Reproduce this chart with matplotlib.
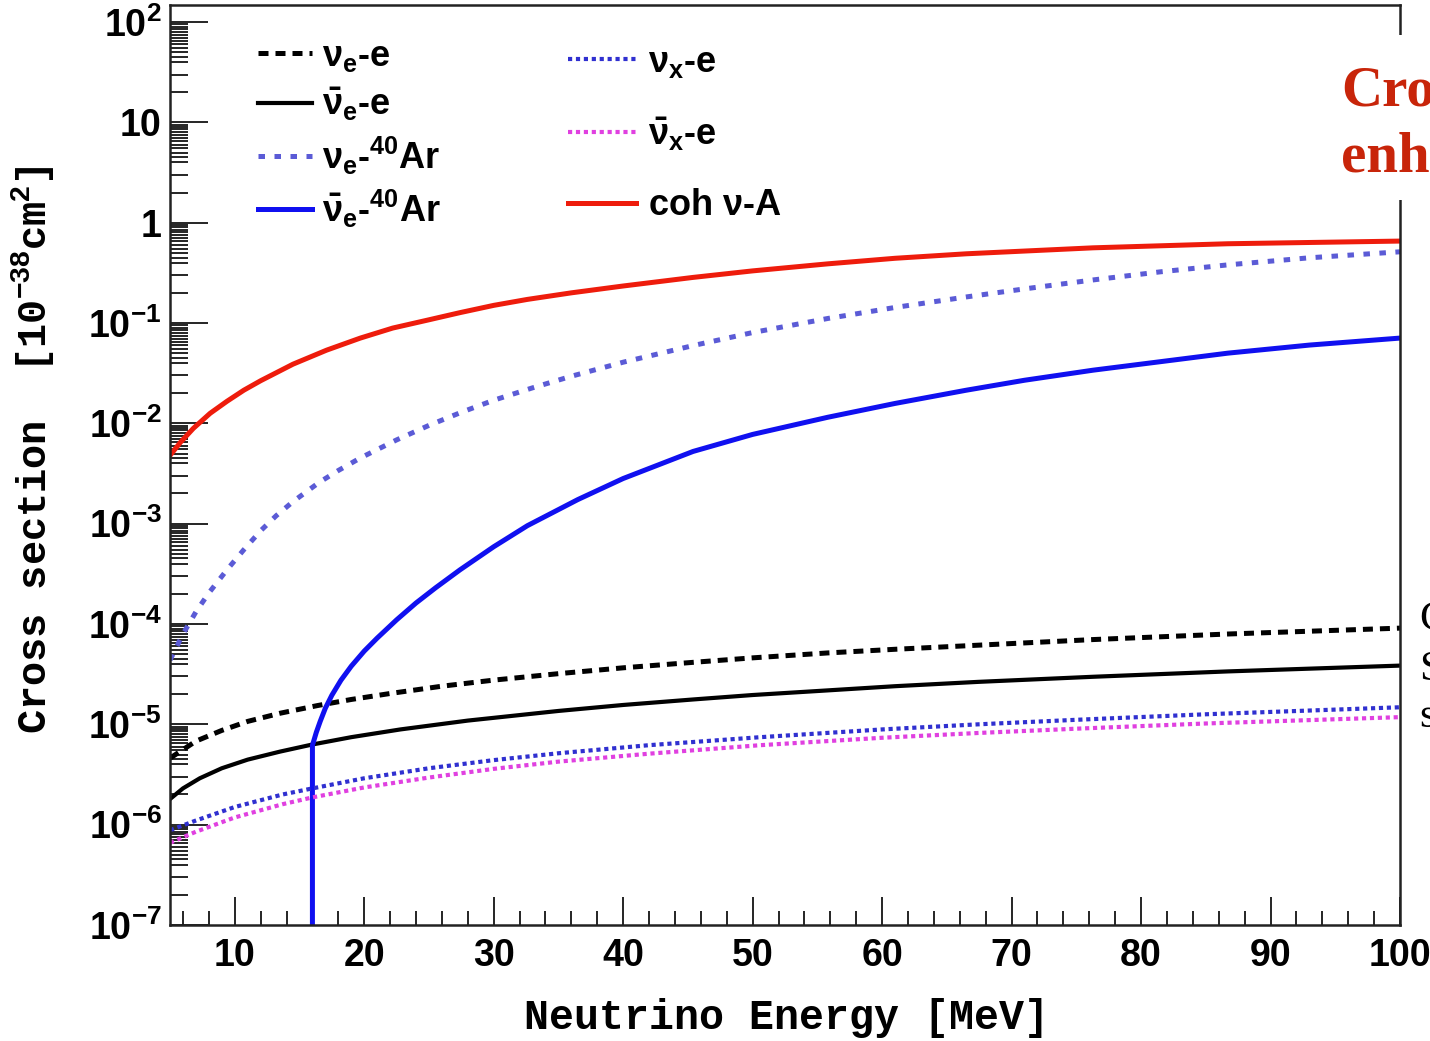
import numpy as np
import matplotlib
matplotlib.use("Agg")
import matplotlib.pyplot as plt
from matplotlib.patches import Rectangle

plt.rcParams['font.family'] = ['Liberation Sans', 'DejaVu Sans']
plt.rcParams['font.weight'] = 'bold'
plt.rcParams['mathtext.fontset'] = 'custom'
plt.rcParams['mathtext.rm'] = 'Liberation Sans:bold'
plt.rcParams['mathtext.it'] = 'Liberation Sans:bold'
plt.rcParams['mathtext.bf'] = 'Liberation Sans:bold'

# neutrino energy [MeV] and cross section [1e-38 cm^2]
e_coh = [5, 5.8, 6.8, 8.1, 9.4, 10.7, 12, 14.5, 17.1, 19.7, 22.2, 24.9, 27.4, 30, 32.6,
         36, 40, 45.4, 50, 55.8, 61, 66.5, 76.3, 86.7, 100]
xs_coh = [0.00479, 0.00646, 0.00891, 0.0126, 0.0166, 0.0214, 0.0266, 0.0389, 0.0537,
          0.0708, 0.0891, 0.107, 0.127, 0.150, 0.172, 0.200, 0.234, 0.285, 0.331, 0.389,
          0.442, 0.490, 0.562, 0.617, 0.656]

e_nue_ar = [5, 6, 7, 8, 9.4, 10.7, 12, 13.2, 14.5, 16.5, 18, 19.7, 22.5, 25, 27.5, 30, 33,
            36, 40, 45.4, 50, 55.8, 61, 66.5, 71, 76.3, 81.5, 86.7, 93, 100]
xs_nue_ar = [4.37e-5, 7.94e-5, 1.32e-4, 2.04e-4, 3.47e-4, 5.5e-4, 8.5e-4, 1.2e-3, 1.66e-3,
             2.57e-3, 3.39e-3, 4.52e-3, 6.84e-3, 9.55e-3, 0.0129, 0.0170, 0.0226, 0.0295,
             0.0407, 0.0596, 0.0804, 0.111, 0.143, 0.182, 0.219, 0.269, 0.324, 0.380,
             0.447, 0.513]

e_nuebar_ar = [16.0, 16.0, 16.3, 16.6, 17.0, 17.5, 18.2, 19.0, 20.0, 21.0, 22.5, 24.0, 25.5,
               27.4, 30, 32.6, 36.5, 40, 45.4, 50, 55.8, 61, 66.5, 71, 76.3, 81.5, 86.7,
               93, 100]
xs_nuebar_ar = [1e-9, 6.17e-6, 8.32e-6, 1.07e-5, 1.45e-5, 1.95e-5, 2.75e-5, 3.80e-5,
                5.37e-5, 7.24e-5, 1.10e-4, 1.62e-4, 2.29e-4, 3.47e-4, 5.89e-4, 9.55e-4,
                1.74e-3, 2.82e-3, 5.25e-3, 7.76e-3, 0.0115, 0.0158, 0.0214, 0.0269, 0.0339,
                0.0412, 0.0501, 0.0603, 0.0708]

e_nue_e = [5, 7, 9, 11, 13.5, 16.4, 19, 22, 26, 30, 35, 40, 45.4, 50, 55.8, 61, 67.4,
           76.3, 86.7, 100]
xs_nue_e = [4.6e-6, 6.8e-6, 8.7e-6, 1.07e-5, 1.29e-5, 1.54e-5, 1.77e-5, 2.03e-5, 2.4e-5,
            2.76e-5, 3.2e-5, 3.66e-5, 4.15e-5, 4.6e-5, 5.15e-5, 5.6e-5, 6.15e-5, 7.0e-5,
            7.95e-5, 9.1e-5]

e_nuebar_e = [5, 6, 7.3, 9, 11, 13.5, 16, 19, 22.8, 28, 35, 40, 45.4, 50, 55.8, 61, 67.4,
              76.3, 86.7, 100]
xs_nuebar_e = [1.8e-6, 2.3e-6, 2.9e-6, 3.65e-6, 4.45e-6, 5.35e-6, 6.3e-6, 7.45e-6, 8.9e-6,
               1.09e-5, 1.36e-5, 1.56e-5, 1.77e-5, 1.96e-5, 2.18e-5, 2.4e-5, 2.65e-5,
               2.98e-5, 3.37e-5, 3.85e-5]

e_nux_e = [5, 7, 10, 13.7, 16, 20, 25, 30, 35, 42, 50.6, 60, 67.4, 75, 85, 100]
xs_nux_e = [8.8e-7, 1.1e-6, 1.5e-6, 2.0e-6, 2.3e-6, 2.9e-6, 3.65e-6, 4.4e-6, 5.15e-6,
            6.2e-6, 7.45e-6, 8.9e-6, 1.0e-5, 1.11e-5, 1.26e-5, 1.48e-5]

e_nuxbar_e = [5, 7, 10, 13.7, 16, 20, 25, 30, 35, 42, 50.6, 60, 67.4, 75, 85, 100]
xs_nuxbar_e = [6.6e-7, 8.5e-7, 1.18e-6, 1.6e-6, 1.87e-6, 2.35e-6, 2.95e-6, 3.6e-6, 4.25e-6,
               5.1e-6, 6.2e-6, 7.35e-6, 8.2e-6, 9.05e-6, 1.02e-5, 1.18e-5]

xtick_vals = [10, 20, 30, 40, 50, 60, 70, 80, 90, 100]
ytick_vals = [1e-7, 1e-6, 1e-5, 1e-4, 1e-3, 1e-2, 1e-1, 1, 10, 100]
ytick_labels = ['$10^{-7}$', '$10^{-6}$', '$10^{-5}$', '$10^{-4}$', '$10^{-3}$',
                '$10^{-2}$', '$10^{-1}$', '1', '10', '$10^{2}$']

W, H = 1430, 1041
fig = plt.figure(figsize=(W / 100, H / 100), dpi=100)
ax = fig.add_axes([170 / W, 116 / H, 1230 / W, 920 / H])

ax.plot(e_nue_e, xs_nue_e, color='black', lw=3.6, dashes=(2.0, 1.4), label=r'$\nu_{e}$-e')
ax.plot(e_nuebar_e, xs_nuebar_e, color='black', lw=3.0, label=r'$\bar{\nu}_{e}$-e')
ax.plot(e_nue_ar, xs_nue_ar, color='#5b5bd6', lw=3.6, dashes=(1.3, 1.9),
        label=r'$\nu_{e}$-$^{40}$Ar')
ax.plot(e_nuebar_ar, xs_nuebar_ar, color='#1010f0', lw=3.6, label=r'$\bar{\nu}_{e}$-$^{40}$Ar')
ax.plot(e_nux_e, xs_nux_e, color='#3030d0', lw=3.0, dashes=(1.0, 0.9), label=r'$\nu_{x}$-e')
ax.plot(e_nuxbar_e, xs_nuxbar_e, color='#e040e0', lw=3.0, dashes=(1.0, 0.9),
        label=r'$\bar{\nu}_{x}$-e')
ax.plot(e_coh, xs_coh, color='#ee1c0c', lw=3.6, label=r'coh $\nu$-A')

ax.set_yscale('log')
ax.set_xlim(5, 100)
ax.set_ylim(1e-7, 10 ** 2.17)

ax.set_xticks(xtick_vals)
ax.set_xticks([v for v in range(6, 100, 2) if v % 10], minor=True)
ax.set_yticks(ytick_vals)
ax.set_yticklabels(ytick_labels)
subs = [2, 3, 4, 4.5, 5, 5.5, 6, 6.5, 7, 7.5, 8, 8.5, 9, 9.5]
ax.set_yticks([s * 10.0 ** d for d in range(-7, 2) for s in subs], minor=True)
ax.yaxis.set_minor_formatter(plt.NullFormatter())

ax.tick_params(axis='x', which='both', direction='in', top=False, labelsize=27, pad=9)
ax.tick_params(axis='x', which='major', length=20, width=1.2)
ax.tick_params(axis='x', which='minor', length=10, width=1.2)
ax.tick_params(axis='y', which='both', direction='in', right=False, labelsize=27, pad=6)
ax.tick_params(axis='y', which='major', length=27, width=1.2)
ax.tick_params(axis='y', which='minor', length=13, width=1.2)
for sp in ax.spines.values():
    sp.set_linewidth(1.8)
    sp.set_color('#222222')

handles, labels = ax.get_legend_handles_labels()
leg1 = ax.legend(handles[:4], labels[:4], loc='upper left', bbox_to_anchor=(0.0715, 0.963),
                 frameon=False, fontsize=26, handlelength=1.5, handletextpad=0.28,
                 labelspacing=0.31, borderpad=0, borderaxespad=0)
ax.add_artist(leg1)
ax.legend(handles[4:], labels[4:], loc='upper left', bbox_to_anchor=(0.3236, 0.957),
          frameon=False, fontsize=26, handlelength=1.88, handletextpad=0.33,
          labelspacing=0.98, borderpad=0, borderaxespad=0)

fig.text(786 / W, 1 - 1018 / H, 'Neutrino Energy [MeV]', family='Liberation Mono',
         weight='bold', fontsize=30, ha='center', va='center')
fig.text(33 / W, 1 - 450 / H, 'Cross section  [10$^{-38}$cm$^{2}$]', family='Liberation Mono',
         weight='bold', fontsize=29, ha='center', va='center', rotation=90)

# slide overlay on the right
fig.patches.append(Rectangle((1320 / W, 1 - 200 / H), 110 / W, 165 / H,
                             transform=fig.transFigure, facecolor='white', edgecolor='none',
                             zorder=5))
fig.text(1341 / W, 1 - 105 / H, 'Cro', family='Liberation Serif', weight='bold',
         fontsize=41, color='#c8250a', va='baseline', zorder=6)
fig.text(1341 / W, 1 - 172 / H, 'enh', family='Liberation Serif', weight='bold',
         fontsize=41, color='#c8250a', va='baseline', zorder=6)
for txt, yb in [('C', 630), ('S', 680), ('s', 727)]:
    fig.text(1419 / W, 1 - yb / H, txt, family='Liberation Serif', weight='normal',
             fontsize=31, color='black', va='baseline')

fig.savefig('out.png', dpi=100)
